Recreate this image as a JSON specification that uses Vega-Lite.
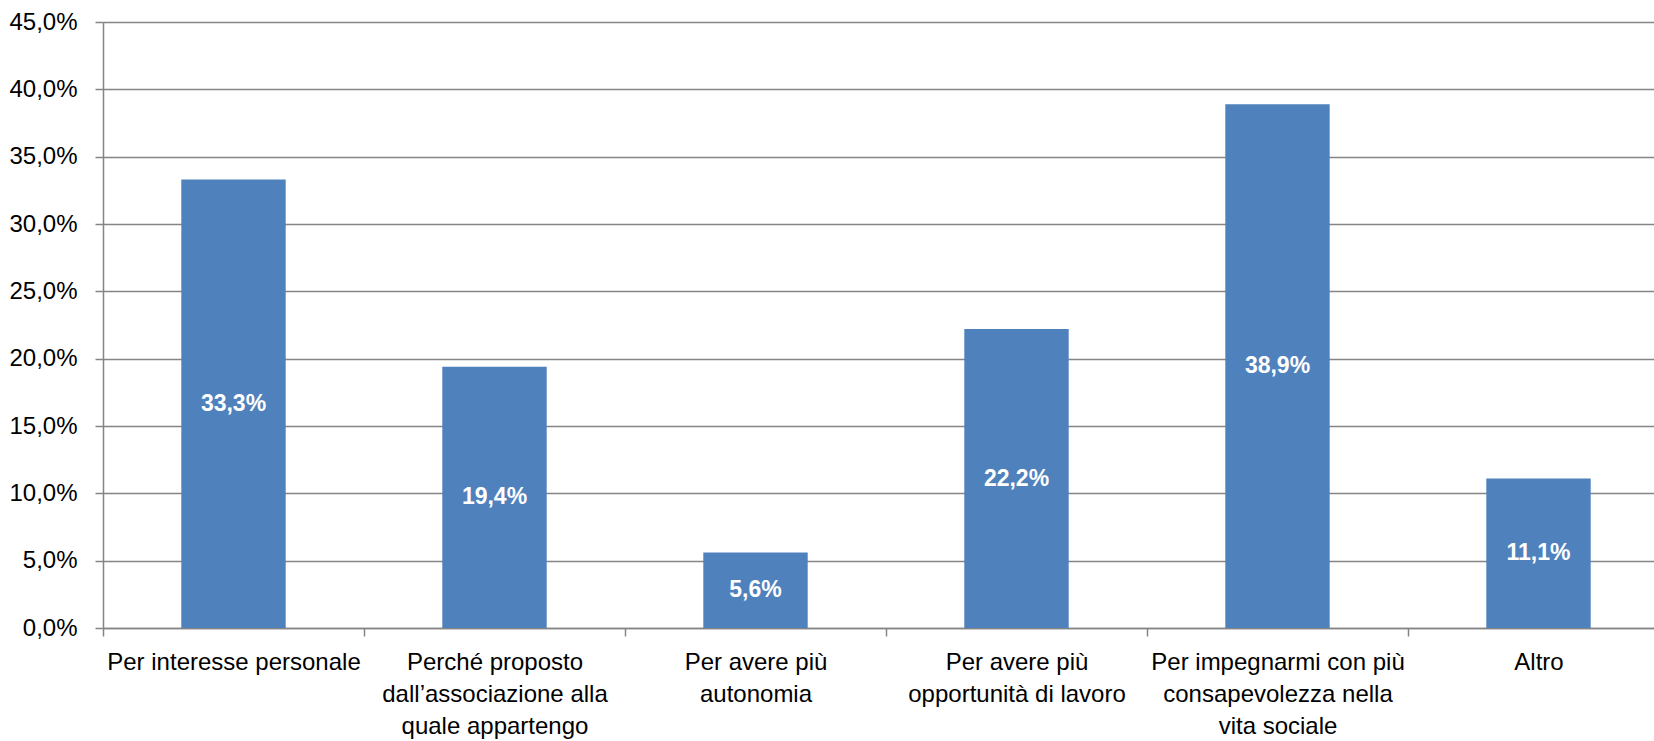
{
  "$schema": "https://vega.github.io/schema/vega-lite/v6.json",
  "autosize": "none",
  "width": 1551,
  "height": 606,
  "padding": {"left": 103, "top": 22, "right": 0, "bottom": 113},
  "background": "white",
  "config": {
    "view": {"stroke": null},
    "font": "Liberation Sans",
    "locale": {"number": {"decimal": ",", "thousands": ".", "grouping": [3], "currency": ["€", ""]}}
  },
  "data": {"values": [
    {"categoria": "Per interesse personale", "valore": 0.333},
    {"categoria": "Perché proposto\ndall’associazione alla\nquale appartengo", "valore": 0.194},
    {"categoria": "Per avere più\nautonomia", "valore": 0.056},
    {"categoria": "Per avere più\nopportunità di lavoro", "valore": 0.222},
    {"categoria": "Per impegnarmi con più\nconsapevolezza nella\nvita sociale", "valore": 0.389},
    {"categoria": "Altro", "valore": 0.111}
  ]},
  "encoding": {
    "x": {
      "field": "categoria", "type": "nominal", "sort": null,
      "scale": {"range": [0, 1566], "paddingInner": 0, "paddingOuter": 0},
      "axis": {
        "title": null, "labelAngle": 0, "labelFontSize": 24, "labelColor": "#000000",
        "labelExpr": "split(datum.label, '\\n')", "labelLineHeight": 32,
        "labelPadding": 14, "labelLimit": 0,
        "tickBand": "extent", "tickSize": 8, "tickColor": "#858585", "tickWidth": 1.5,
        "domainColor": "#858585", "domainWidth": 1.5, "grid": false
      }
    }
  },
  "layer": [
    {
      "mark": {"type": "bar", "width": {"band": 0.4}, "color": "#4F81BD"},
      "encoding": {
        "y": {
          "field": "valore", "type": "quantitative",
          "scale": {"domain": [0, 0.45], "nice": false},
          "axis": {
            "title": null, "values": [0, 0.05, 0.1, 0.15, 0.2, 0.25, 0.3, 0.35, 0.4, 0.45],
            "format": ".1%", "labelFontSize": 24, "labelColor": "#000000", "labelPadding": 18,
            "tickSize": 8, "tickColor": "#858585", "tickWidth": 1.5,
            "domainColor": "#858585", "domainWidth": 1.5,
            "grid": true, "gridColor": "#858585", "gridWidth": 1.5
          }
        }
      }
    },
    {
      "mark": {"type": "text", "color": "white", "fontWeight": "bold", "fontSize": 23, "baseline": "middle"},
      "encoding": {
        "y": {"field": "valore", "type": "quantitative", "scale": {"domain": [0, 0.9], "nice": false}, "axis": null},
        "text": {"field": "valore", "type": "quantitative", "format": ".1%"}
      }
    }
  ],
  "resolve": {"scale": {"y": "independent"}}
}
